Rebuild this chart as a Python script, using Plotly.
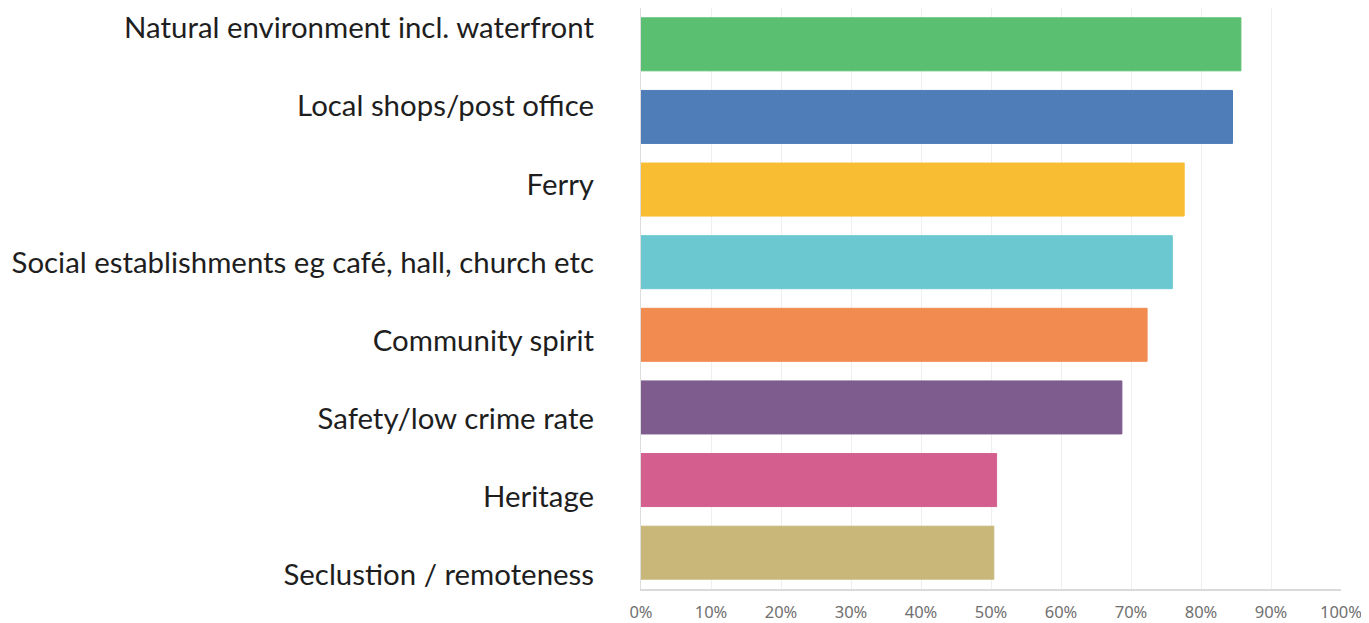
import plotly.graph_objects as go

categories = [
    "Natural environment incl. waterfront",
    "Local shops/post office",
    "Ferry",
    "Social establishments eg café, hall, church etc",
    "Community spirit",
    "Safety/low crime rate",
    "Heritage",
    "Seclustion / remoteness",
]
values = [85.7, 84.5, 77.6, 75.9, 72.3, 68.7, 50.8, 50.4]
colors = ["#5bbf72", "#4f7db8", "#f8bd33", "#6cc8d0", "#f28b4f", "#7e5c8e", "#d45f8f", "#c9b77a"]
tick_vals = [0, 10, 20, 30, 40, 50, 60, 70, 80, 90, 100]
tick_text = [f"{v}%" for v in tick_vals]

cats_bottom_up = categories[::-1]
vals_bottom_up = values[::-1]
cols_bottom_up = colors[::-1]
idx = list(range(len(cats_bottom_up)))

fig = go.Figure()
fig.add_trace(go.Bar(
    x=vals_bottom_up, y=idx, orientation="h",
    marker=dict(color=cols_bottom_up, line=dict(color=cols_bottom_up, width=1)),
    width=0.73, yaxis="y", hoverinfo="x",
))
fig.add_trace(go.Scatter(
    x=vals_bottom_up, y=idx, yaxis="y2",
    mode="markers", marker=dict(opacity=0), hoverinfo="skip", showlegend=False,
))

fig.update_layout(
    width=1369, height=623,
    margin=dict(l=633, r=36, t=0, b=42, autoexpand=False),
    plot_bgcolor="white", paper_bgcolor="white",
    showlegend=False,
    xaxis=dict(
        range=[0, 100], tickvals=tick_vals, ticktext=tick_text,
        showgrid=True, gridcolor="#efefef", gridwidth=1,
        zeroline=False, showline=True, linecolor="#dadada", linewidth=2,
        tickfont=dict(family="Noto Sans", size=16.5, color="#707070"),
        ticks="", ticklabelstandoff=7, automargin=False,
    ),
    yaxis=dict(
        range=[-0.5, len(cats_bottom_up) - 0.5], showticklabels=False,
        showgrid=False, zeroline=False, showline=True, linecolor="#dddddd", linewidth=1,
        ticks="", automargin=False,
    ),
    yaxis2=dict(
        overlaying="y", side="left", range=[-0.179, 7.255],
        tickvals=idx, ticktext=cats_bottom_up,
        showgrid=False, zeroline=False, showline=False, ticks="",
        ticklabelstandoff=46, automargin=False,
        tickfont=dict(family="Lato, sans-serif", size=29.4, color="#1e1e1e", weight=400),
    ),
)

fig.write_html("out.html")
